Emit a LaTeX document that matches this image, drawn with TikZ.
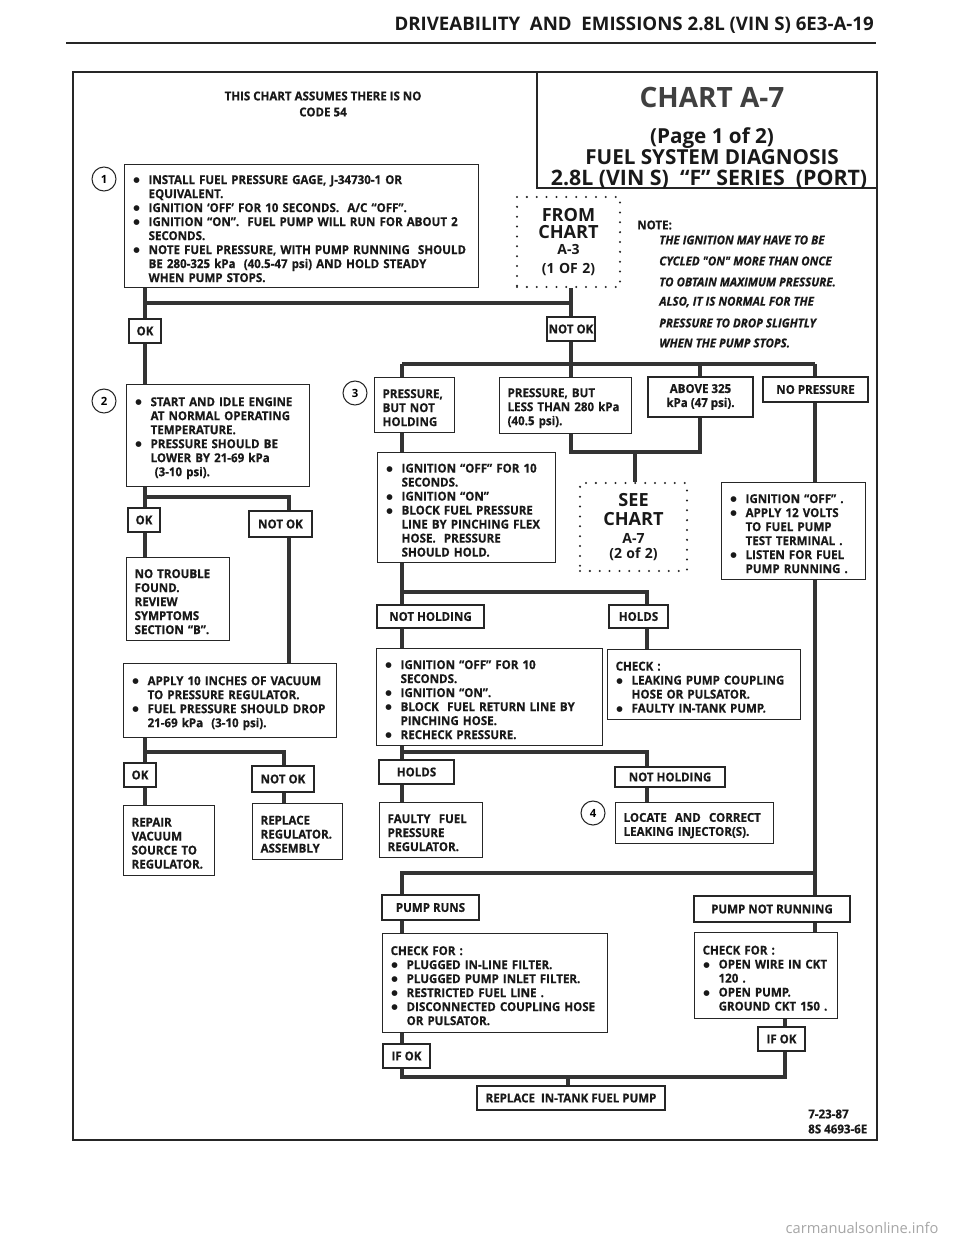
\documentclass[tikz,border=0pt]{standalone}
\usepackage{fontspec}
\setmainfont{Open Sans}
\newfontfamily\bodyf{Open Sans}[FakeStretch=0.94, BoldFeatures={FakeBold=0.5}, BoldItalicFeatures={FakeBold=0.5}]
\newfontfamily\symf{DejaVu Sans}
\usetikzlibrary{backgrounds}
\newcommand\txf{\bodyf\fontsize{9.2}{10.5}\selectfont\bfseries}
\newcommand\ftt{\fontsize{15.5}{18}\selectfont\bfseries}
\newcommand\bul{\raisebox{1.1pt}{\symf\fontsize{5.6}{6}\selectfont ●}}
\newcommand\Bu[1]{\par\noindent\mbox{\makebox[12pt][l]{\hspace*{0.6pt}\bul}#1}}
\newcommand\Co[1]{\par\noindent\mbox{\hspace*{12pt}#1}}
\newcommand\Pl[1]{\par\noindent\mbox{#1}}
\newcommand\BX[6]{\pgfmathsetmacro\bxw{(#4-#2)*0.75-12}\pgfmathsetmacro\bxh{(#5-#3)*0.75}\node[bx,text width=\bxw pt,minimum height=\bxh pt] (#1) at (#2,#3) {#6};}
\newcommand\LB[6]{\pgfmathsetmacro\bxw{(#4-#2)*0.75}\pgfmathsetmacro\bxh{(#5-#3)*0.75}\node[lb,minimum width=\bxw pt,minimum height=\bxh pt] (#1) at ({(#2+#4)/2},{(#3+#5)/2}) {#6};}
\newcommand\DB[6]{\pgfmathsetmacro\bxw{(#4-#2)*0.75}\pgfmathsetmacro\bxh{(#5-#3)*0.75}\node[dbx,text width=\bxw pt,minimum height=\bxh pt] (#1) at ({(#2+#4)/2},{(#3+#5)/2}) {#6};}
\tikzset{
 bx/.style={draw=black!85, fill=white, line width=0.95pt, anchor=north west, inner xsep=6pt, inner ysep=1pt, font=\txf, align=left, text=black!90},
 lb/.style={draw=black!85, fill=white, line width=0.95pt, inner sep=0pt, font=\txf, align=center, text=black!90},
 dbx/.style={draw=black!85, fill=white, line width=1.7pt, dash pattern=on 0pt off 7.4pt, line cap=round, inner sep=0pt, align=center, text=black!90},
 cn/.style={draw=black!80, line width=2.3pt},
 circ/.style={circle, draw=black!85, fill=white, line width=0.8pt, minimum size=18pt, inner sep=0pt, font=\fontsize{8.5}{9}\selectfont\bfseries},
 frm/.style={draw=black!85, line width=1.6pt},
 ftxt/.style={font=\txf, text=black!90, inner sep=0pt},
 itxt/.style={font=\bodyf\fontsize{9.2}{10}\selectfont\bfseries\itshape, text=black!90, inner sep=0pt, anchor=west},
 ttx/.style={text=black!90, inner sep=0pt},
}
\begin{document}
\begin{tikzpicture}[x=0.75pt,y=-0.75pt]
\useasboundingbox (0,0) rectangle (960,1242);
\begin{pgfonlayer}{background}
\fill[white] (0,0) rectangle (960,1242);
\end{pgfonlayer}
% header
\node[font=\fontsize{14}{16}\selectfont\bfseries, text=black!90, anchor=east, inner sep=0pt] (hdr) at (874,25) {DRIVEABILITY\ \ AND\ \ EMISSIONS 2.8L (VIN S) 6E3-A-19};
\draw[draw=black!85, line width=1.8pt] (66,43) -- (876,43);
% frame
\draw[frm] (73,72) rectangle (877,1140);
\draw[frm] (537,72) -- (537,188) -- (877,188);
% title
\node[ttx, font=\fontsize{21}{24}\selectfont\bfseries, text=black!75] (ttl) at (712,97) {CHART A-7};
\node[ttx, font=\ftt] (tt2) at (712,138) {(Page 1 of 2)};
\node[ttx, font=\ftt] (tt3) at (712,157.5) {FUEL SYSTEM DIAGNOSIS};
\node[ttx, font=\fontsize{16}{18}\selectfont\bfseries] (tt4) at (709,179.5) {2.8L (VIN S)\ \ “F” SERIES\ \ (PORT)};
% assumption
\node[ftxt] (as1) at (323,96) {THIS CHART ASSUMES THERE IS NO};
\node[ftxt] (as2) at (323,112) {CODE 54};
% note
\node[ftxt, anchor=west] (note) at (637,225) {NOTE:};
\node[itxt] (n1) at (659,240) {THE IGNITION MAY HAVE TO BE};
\node[itxt] (n2) at (659,261) {CYCLED "ON" MORE THAN ONCE};
\node[itxt] (n3) at (659,282) {TO OBTAIN MAXIMUM PRESSURE.};
\node[itxt] (n4) at (659,302) {ALSO, IT IS NORMAL FOR THE};
\node[itxt] (n5) at (659,323) {PRESSURE TO DROP SLIGHTLY};
\node[itxt] (n6) at (659,343) {WHEN THE PUMP STOPS.};
% step 1
\BX{b1}{124}{164}{478}{287}{\Bu{INSTALL FUEL PRESSURE GAGE,\ J-34730-1 OR}\Co{EQUIVALENT.}\Bu{IGNITION ‘OFF’ FOR 10 SECONDS.\ \ A/C “OFF”.}\Bu{IGNITION “ON”.\ \ FUEL PUMP WILL RUN FOR ABOUT 2}\Co{SECONDS.}\Bu{NOTE FUEL PRESSURE, WITH PUMP RUNNING\ \ SHOULD}\Co{BE 280-325 kPa\ \ (40.5-47 psi) AND HOLD STEADY}\Co{WHEN PUMP STOPS.}}
\node[circ] (c1) at (104,179) {1};
\DB{from}{517}{197}{620}{287}{{\fontsize{13.6}{12.75}\selectfont\bfseries FROM\par}{\fontsize{13.6}{12.75}\selectfont\bfseries CHART\par}{\fontsize{10.5}{12.4}\selectfont\bfseries A-3\par}{\fontsize{10.5}{14.25}\selectfont\bfseries (1 OF 2)\par}}
\LB{ok1}{129}{319}{161}{343}{OK}
\LB{nok1}{547}{317}{595}{341}{NOT OK}
% step 2
\BX{b2}{126}{384}{309}{486}{\Bu{START AND IDLE ENGINE}\Co{AT NORMAL OPERATING}\Co{TEMPERATURE.}\Bu{PRESSURE SHOULD BE}\Co{LOWER BY 21-69 kPa}\Co{\ (3-10 psi).}}
\node[circ] (c2) at (104,401) {2};
\LB{ok2}{128}{508}{160}{532}{OK}
\LB{nok2}{249}{511}{312}{537}{NOT OK}
\BX{nt}{126}{557}{229}{640}{\Pl{NO TROUBLE}\Pl{FOUND.}\Pl{REVIEW}\Pl{SYMPTOMS}\Pl{SECTION “B”.}}
\BX{vac}{123}{663}{336}{737}{\Bu{APPLY 10 INCHES OF VACUUM}\Co{TO PRESSURE REGULATOR.}\Bu{FUEL PRESSURE SHOULD DROP}\Co{21-69 kPa\ \ (3-10 psi).}}
\LB{ok3}{124}{763}{156}{787}{OK}
\LB{nok3}{252}{766}{314}{792}{NOT OK}
\BX{rep}{123}{805}{214}{875}{\Pl{REPAIR}\Pl{VACUUM}\Pl{SOURCE TO}\Pl{REGULATOR.}}
\BX{rpl}{252}{803}{342}{859}{\Pl{REPLACE}\Pl{REGULATOR.}\Pl{ASSEMBLY}}
% step 3
\BX{pbnh}{374}{377}{454}{432}{\Pl{PRESSURE,}\Pl{BUT NOT}\Pl{HOLDING}}
\node[circ] (c3) at (355,393) {3};
\BX{pblt}{499}{377}{631}{433}{\Pl{PRESSURE, BUT}\Pl{LESS THAN 280 kPa}\Pl{(40.5 psi).}}
\LB{ab}{648}{377}{753}{417}{ABOVE 325\\kPa (47 psi).}
\LB{npr}{763}{377}{868}{402}{NO PRESSURE}
\BX{b3b}{377}{452}{555}{562}{\Bu{IGNITION “OFF” FOR 10}\Co{SECONDS.}\Bu{IGNITION “ON”}\Bu{BLOCK FUEL PRESSURE}\Co{LINE BY PINCHING FLEX}\Co{HOSE.\ \ PRESSURE}\Co{SHOULD HOLD.}}
\DB{see}{580}{483}{687}{571}{{\fontsize{13.6}{14.25}\selectfont\bfseries SEE\par}{\fontsize{13.6}{14.25}\selectfont\bfseries CHART\par}{\fontsize{10.5}{14}\selectfont\bfseries A-7\par}{\fontsize{10.5}{11}\selectfont\bfseries (2 of 2)\par}}
\BX{b3np}{721}{482}{865}{579}{\Bu{IGNITION “OFF” .}\Bu{APPLY 12 VOLTS}\Co{TO FUEL PUMP}\Co{TEST TERMINAL .}\Bu{LISTEN FOR FUEL}\Co{PUMP RUNNING .}}
\LB{nh1}{377}{605}{484}{628}{NOT HOLDING}
\LB{ho1}{609}{605}{668}{628}{HOLDS}
\BX{chk1}{607}{649}{800}{719}{\Pl{CHECK :}\Bu{LEAKING PUMP COUPLING}\Co{HOSE OR PULSATOR.}\Bu{FAULTY IN-TANK PUMP.}}
\BX{b3c}{376}{648}{602}{745}{\Bu{IGNITION “OFF” FOR 10}\Co{SECONDS.}\Bu{IGNITION “ON”.}\Bu{BLOCK\ \ FUEL RETURN LINE BY}\Co{PINCHING HOSE.}\Bu{RECHECK PRESSURE.}}
\LB{ho2}{379}{760}{454}{784}{HOLDS}
\LB{nh2}{615}{767}{725}{787}{NOT HOLDING}
\BX{flt}{379}{802}{482}{857}{\Pl{FAULTY\ \ FUEL}\Pl{PRESSURE}\Pl{REGULATOR.}}
\BX{loc}{615}{802}{773}{843}{\Pl{LOCATE\ \ AND\ \ CORRECT}\Pl{LEAKING INJECTOR(S).}}
\node[circ] (c4) at (593,813) {4};
% pump test
\LB{prun}{382}{895}{479}{920}{PUMP RUNS}
\LB{pnr}{694}{896}{850}{922}{PUMP NOT RUNNING}
\BX{chkL}{382}{933}{607}{1032}{\Pl{CHECK FOR :}\Bu{PLUGGED IN-LINE FILTER.}\Bu{PLUGGED PUMP INLET FILTER.}\Bu{RESTRICTED FUEL LINE .}\Bu{DISCONNECTED COUPLING HOSE}\Co{OR PULSATOR.}}
\BX{chkR}{694}{932}{837}{1018}{\Pl{CHECK FOR :}\Bu{OPEN WIRE IN CKT}\Co{120 .}\Bu{OPEN PUMP.}\Co{GROUND CKT 150 .}}
\LB{ifL}{383}{1044}{430}{1068}{IF OK}
\LB{ifR}{758}{1027}{805}{1051}{IF OK}
\LB{rt}{477}{1086}{665}{1110}{REPLACE\ \ IN-TANK FUEL PUMP}
% footer
\node[ftxt, anchor=west] (f1) at (808,1114) {7-23-87};
\node[ftxt, anchor=west] (f2) at (808,1129) {8S 4693-6E};
\node[font=\fontsize{11}{12}\selectfont, text=black!35, inner sep=0pt] (wm) at (862,1228) {carmanualsonline.info};
% connectors
\coordinate (xA) at (145,0); \coordinate (xB) at (289,0); \coordinate (xB2) at (284,0);
\coordinate (xC) at (571,0); \coordinate (xD) at (402,0); \coordinate (xE) at (647,0);
\coordinate (xF) at (700,0); \coordinate (xG) at (815,0); \coordinate (xH) at (785,0);
\coordinate (xI) at (635,0); \coordinate (xJ) at (568,0);
\coordinate (yR0) at (0,303); \coordinate (yTop) at (0,364); \coordinate (yM) at (0,452);
\coordinate (yR1) at (0,592); \coordinate (yR3) at (0,497); \coordinate (yR2) at (0,752);
\coordinate (yR5) at (0,873); \coordinate (yR6) at (0,1077);
\begin{pgfonlayer}{background}
\draw[cn] (b1.south -| xA) -- (b2.north -| xA);
\draw[cn] (from.south -| xC) -- (yTop -| xC);
\draw[cn] (yR0 -| xA) -- (yR0 -| xC);
\draw[cn] (yTop -| xD) -- (yTop -| xG);
\draw[cn] (yTop -| xD) -- (b3b.north -| xD);
\draw[cn] (yTop -| xC) -- (pblt.north -| xC);
\draw[cn] (yTop -| xF) -- (ab.north -| xF);
\draw[cn] (yTop -| xG) -- (b3np.north -| xG);
\draw[cn] (pblt.south -| xC) -- (yM -| xC) -- (yM -| xF) -- (ab.south -| xF);
\draw[cn] (yM -| xI) -- (see.north -| xI);
\draw[cn] (b3b.south -| xD) -- (b3c.north -| xD);
\draw[cn] (yR1 -| xD) -- (yR1 -| xE) -- (chk1.north -| xE);
\draw[cn] (b3c.south -| xD) -- (flt.north -| xD);
\draw[cn] (yR2 -| xD) -- (yR2 -| xE) -- (loc.north -| xE);
\draw[cn] (b2.south -| xA) -- (nt.north -| xA);
\draw[cn] (yR3 -| xA) -- (yR3 -| xB) -- (vac.north -| xB);
\draw[cn] (vac.south -| xA) -- (rep.north -| xA);
\draw[cn] (yR2 -| xA) -- (yR2 -| xB2) -- (rpl.north -| xB2);
\draw[cn] (b3np.south -| xG) -- (chkR.north -| xG);
\draw[cn] (yR5 -| xG) -- (yR5 -| xD) -- (chkL.north -| xD);
\draw[cn] (chkL.south -| xD) -- (yR6 -| xD) -- (yR6 -| xH) -- (chkR.south -| xH);
\draw[cn] (yR6 -| xJ) -- (rt.north -| xJ);
\end{pgfonlayer}
\end{tikzpicture}
\end{document}
